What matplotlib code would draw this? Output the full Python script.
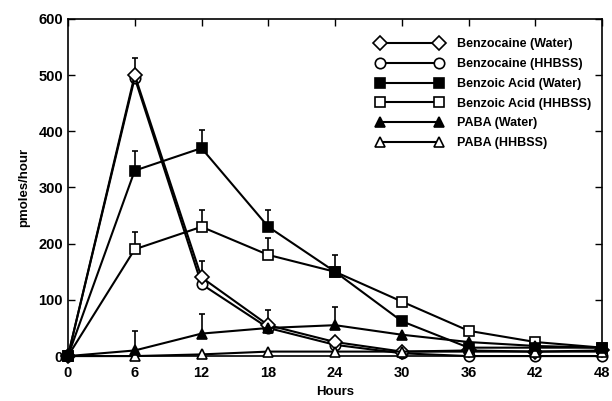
import matplotlib
matplotlib.use("Agg")
import matplotlib.pyplot as plt
import numpy as np

hours = [0, 6, 12, 18, 24, 30, 36, 42, 48]

benzocaine_water = [0, 500, 140, 55, 25, 8, 10, 8, 10]
benzocaine_water_err = [0, 30, 30, 0, 0, 0, 0, 0, 0]
benzocaine_hhbss = [0, 495, 128, 50, 20, 5, 0, 0, 0]
benzocaine_hhbss_err = [0, 0, 0, 0, 0, 0, 0, 0, 0]
benzoic_water = [0, 330, 370, 230, 150, 62, 15, 15, 15]
benzoic_water_err = [0, 35, 32, 30, 30, 0, 0, 0, 0]
benzoic_hhbss = [0, 190, 230, 180, 150, 97, 45, 25, 15]
benzoic_hhbss_err = [0, 30, 30, 30, 0, 0, 0, 0, 0]
paba_water = [0, 10, 40, 50, 55, 38, 25, 18, 15]
paba_water_err = [0, 35, 35, 32, 32, 0, 0, 0, 0]
paba_hhbss = [0, 0, 3, 8, 8, 8, 8, 8, 8]
paba_hhbss_err = [0, 0, 0, 0, 0, 0, 0, 0, 0]

labels = ["Benzocaine (Water)", "Benzocaine (HHBSS)", "Benzoic Acid (Water)",
          "Benzoic Acid (HHBSS)", "PABA (Water)", "PABA (HHBSS)"]

plt.rcParams['font.family'] = ['Liberation Sans', 'DejaVu Sans']
fig = plt.figure(figsize=(6.12, 4.01), dpi=100)
ax = fig.add_axes([0.111, 0.112, 0.873, 0.841])

series = [
    (benzocaine_water, benzocaine_water_err, 'D', 'white', 7.5),
    (benzocaine_hhbss, benzocaine_hhbss_err, 'o', 'white', 7.5),
    (benzoic_water, benzoic_water_err, 's', 'black', 7.5),
    (benzoic_hhbss, benzoic_hhbss_err, 's', 'white', 7.5),
    (paba_water, paba_water_err, '^', 'black', 6.5),
    (paba_hhbss, paba_hhbss_err, '^', 'white', 6.5),
]
order = [1, 0, 3, 2, 5, 4]
handles = [None] * 6
for i in order:
    vals, err, m, fc, ms = series[i]
    e = np.array(err, dtype=float)
    mask = e > 0
    if mask.any():
        ax.errorbar(np.array(hours)[mask], np.array(vals)[mask],
                    yerr=[np.zeros(mask.sum()), e[mask]], fmt='none',
                    ecolor='black', elinewidth=1.2, capsize=2.5, capthick=1.2,
                    clip_on=False, zorder=2)
    h, = ax.plot(hours, vals, color='black', lw=1.5, marker=m,
                 markerfacecolor=fc, markeredgecolor='black', markeredgewidth=1.2,
                 markersize=ms, clip_on=False, zorder=3, label=labels[i])
    handles[i] = h

ax.set_xlim(0, 48)
ax.set_ylim(0, 600)
ax.set_xticks(hours)
ax.set_yticks([0, 100, 200, 300, 400, 500, 600])
ax.tick_params(direction='in', top=True, right=True, length=5, width=1,
               labelsize=10.5)
ax.tick_params(axis='x', pad=7)
for lab in ax.get_xticklabels() + ax.get_yticklabels():
    lab.set_fontweight('bold')
for s in ax.spines.values():
    s.set_linewidth(1.2)

ax.set_xlabel("Hours", fontsize=9.5, fontweight='bold', labelpad=4.5)
ax.set_ylabel("pmoles/hour", fontsize=9.5, fontweight='bold', labelpad=6)

leg = ax.legend(handles=handles, labels=labels, loc='upper left',
                bbox_to_anchor=(0.6155, 0.904), bbox_transform=fig.transFigure,
                frameon=False, numpoints=2, borderpad=0, borderaxespad=0,
                handlelength=5.32, handletextpad=1.08, labelspacing=0.62,
                prop={'size': 9, 'weight': 'bold'})

fig.savefig("out.png", dpi=100)
